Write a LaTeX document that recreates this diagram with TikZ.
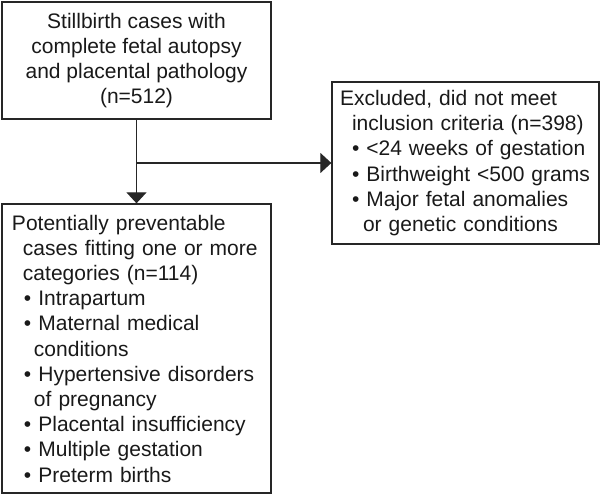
\documentclass[tikz,border=0pt]{standalone}
\usepackage{fontspec}
\setmainfont{Liberation Sans}
\usetikzlibrary{arrows.meta}

\begin{document}
\begin{tikzpicture}[x=1pt,y=1pt,
    box/.style={draw=black!85, line width=1.3pt, font=\fontsize{21}{25.2}\selectfont, text=black!90},
    link/.style={draw=black!85, line width=1.2pt, -{Triangle[width=20pt,length=11pt]}}]
  \def\bul{\textbullet\ }
  \def\ind#1{\hspace*{#1pt}}
  \useasboundingbox (0,0) rectangle (600,495);

  % starting cohort
  \node[box, inner sep=0pt, minimum width=269, minimum height=117, align=center] (cases) at (136.5,434.5)
    {Stillbirth cases with\\complete fetal autopsy\\and placental pathology\\(n=512)};

  % excluded cases (right)
  \node[box, inner xsep=8pt, inner ysep=0pt, text width=251pt, minimum height=162, align=left] (excl) at (465.5,332)
    {Excluded, did not meet\\
     \ind{12}inclusion criteria (n=398)\\
     \ind{12}\bul<24 weeks of gestation\\
     \ind{12}\bul Birthweight <500 grams\\
     \ind{12}\bul Major fetal anomalies\\
     \ind{23}or genetic conditions};

  % preventable cases (bottom)
  \node[box, inner xsep=10pt, inner ysep=0pt, text width=249pt, minimum height=289, align=left] (prev) at (136.5,146.5)
    {Potentially preventable\\
     \ind{11}cases fitting one or more\\
     \ind{11}categories (n=114)\\
     \ind{12}\bul Intrapartum\\
     \ind{12}\bul Maternal medical\\
     \ind{22}conditions\\
     \ind{12}\bul Hypertensive disorders\\
     \ind{22}of pregnancy\\
     \ind{12}\bul Placental insufficiency\\
     \ind{12}\bul Multiple gestation\\
     \ind{12}\bul Preterm births};

  % connectors
  \coordinate (split) at (cases.south |- excl.west);
  \draw[link] (cases) -- (prev);
  \draw[link] (split) -- (excl);
\end{tikzpicture}
\end{document}
